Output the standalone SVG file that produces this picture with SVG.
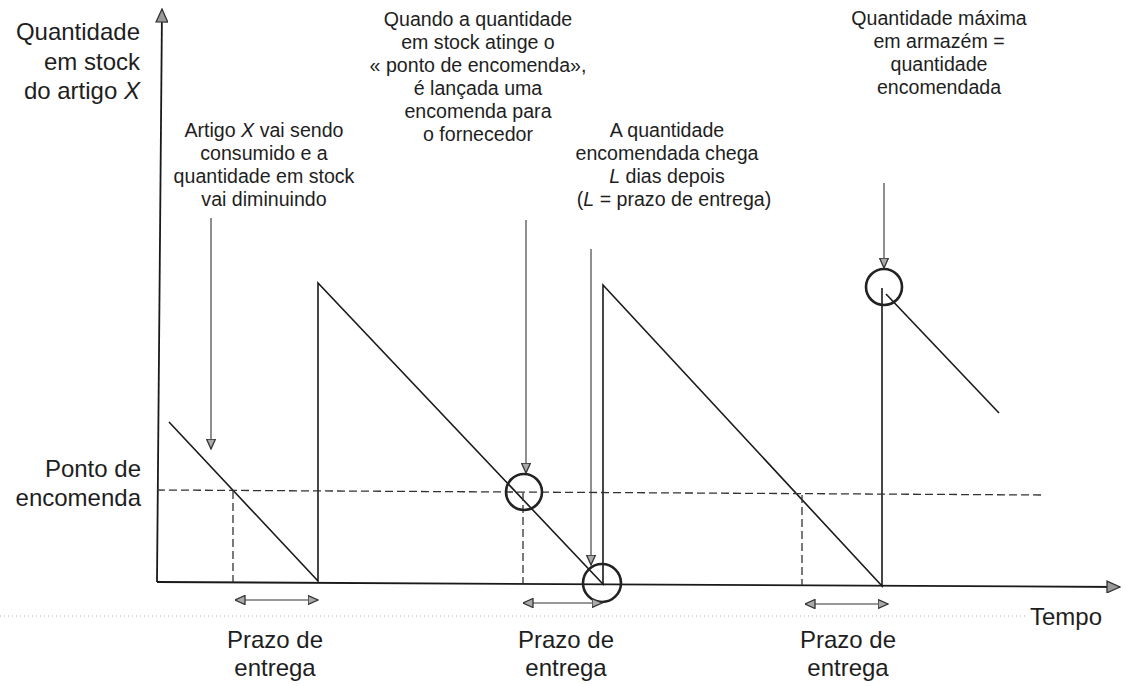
<svg xmlns="http://www.w3.org/2000/svg" width="1126" height="686" viewBox="0 0 1126 686">
<defs>
<style>
.ax{stroke:#1a1a1a;stroke-width:1.8;fill:none}
.ln{stroke:#1a1a1a;stroke-width:1.6;fill:none}
.dash{stroke:#333;stroke-width:1.3;stroke-dasharray:8 4;fill:none}
.ptr{stroke:#333;stroke-width:1.1;fill:none}
.circ{stroke:#222;stroke-width:2.6;fill:none}
.big{font-family:"Liberation Sans",Arial,sans-serif;font-size:24px;fill:#1e1e1e}
.sm{font-family:"Liberation Sans",Arial,sans-serif;font-size:19.6px;fill:#1e1e1e}
.dot{stroke:#aaa;stroke-width:1;stroke-dasharray:1 3;fill:none}
</style>
<marker id="ah" viewBox="0 0 10 10" refX="10" refY="5" markerWidth="11" markerHeight="10" markerUnits="userSpaceOnUse" orient="auto-start-reverse">
<path d="M0,0.5 L10,5 L0,9.5 Z" fill="#aaa" stroke="#333" stroke-width="1.3"/>
</marker>
<marker id="axh" viewBox="0 0 10 10" refX="10" refY="5" markerWidth="15" markerHeight="13" markerUnits="userSpaceOnUse" orient="auto">
<path d="M0,0.5 L10,5 L0,9.5 Z" fill="#999" stroke="#333" stroke-width="1"/>
</marker>
</defs>
<g id="axes">
<line class="ax" x1="157" y1="582" x2="162" y2="9" marker-end="url(#axh)"/>
<line class="ax" x1="157" y1="582" x2="1120" y2="587" marker-end="url(#axh)"/>
<line class="dot" x1="0" y1="616" x2="1028" y2="616"/>
<text class="big" x="140" y="40" text-anchor="end">Quantidade</text>
<text class="big" x="140" y="70" text-anchor="end">em stock</text>
<text class="big" x="140" y="99" text-anchor="end">do artigo <tspan font-style="italic">X</tspan></text>
<text class="big" x="141" y="477" text-anchor="end">Ponto de</text>
<text class="big" x="141" y="506" text-anchor="end">encomenda</text>
<text class="big" x="1030" y="625">Tempo</text>
</g>
<g id="curve">
<polyline class="ln" points="169,422 318,581 318,283 601,582 603,584 603,285 882,586 882,288"/>
<line class="ln" x1="886" y1="294" x2="999" y2="413"/>
</g>
<g id="reorder-level">
<polyline class="dash" points="157,490 1043,495"/>
<line class="dash" x1="233" y1="491" x2="233" y2="582"/>
<line class="dash" x1="523" y1="493" x2="523" y2="583"/>
<line class="dash" x1="802" y1="495" x2="802" y2="585"/>
</g>
<g id="circles">
<circle class="circ" cx="524" cy="492" r="18"/>
<circle class="circ" cx="602" cy="583" r="19"/>
<circle class="circ" cx="884" cy="287" r="18"/>
</g>
<g id="connectors">
<line class="ptr" x1="211" y1="218" x2="211" y2="449" marker-end="url(#ah)"/>
<line class="ptr" x1="526" y1="220" x2="526" y2="473" marker-end="url(#ah)"/>
<line class="ptr" x1="591" y1="249" x2="591" y2="565" marker-end="url(#ah)"/>
<line class="ptr" x1="884" y1="183" x2="884" y2="268" marker-end="url(#ah)"/>
<line class="ptr" x1="235" y1="600" x2="318" y2="600" marker-start="url(#ah)" marker-end="url(#ah)"/>
<line class="ptr" x1="523" y1="603" x2="602" y2="603" marker-start="url(#ah)" marker-end="url(#ah)"/>
<line class="ptr" x1="805" y1="604" x2="888" y2="604" marker-start="url(#ah)" marker-end="url(#ah)"/>
</g>
<g id="label-consumo">
<text class="sm" x="264" y="137" text-anchor="middle">Artigo <tspan font-style="italic">X</tspan> vai sendo</text>
<text class="sm" x="264" y="160" text-anchor="middle">consumido e a</text>
<text class="sm" x="264" y="183" text-anchor="middle">quantidade em stock</text>
<text class="sm" x="264" y="206" text-anchor="middle">vai diminuindo</text>
</g>
<g id="label-encomenda">
<text class="sm" x="478" y="26" text-anchor="middle">Quando a quantidade</text>
<text class="sm" x="478" y="49" text-anchor="middle">em stock atinge o</text>
<text class="sm" x="478" y="72" text-anchor="middle">« ponto de encomenda»,</text>
<text class="sm" x="478" y="95" text-anchor="middle">é lançada uma</text>
<text class="sm" x="478" y="118" text-anchor="middle">encomenda para</text>
<text class="sm" x="478" y="141" text-anchor="middle">o fornecedor</text>
</g>
<g id="label-chegada">
<text class="sm" x="667" y="137" text-anchor="middle">A quantidade</text>
<text class="sm" x="667" y="160" text-anchor="middle">encomendada chega</text>
<text class="sm" x="667" y="183" text-anchor="middle"><tspan font-style="italic">L</tspan> dias depois</text>
<text class="sm" x="674" y="206" text-anchor="middle">(<tspan font-style="italic">L</tspan> = prazo de entrega)</text>
</g>
<g id="label-maxima">
<text class="sm" x="939" y="25" text-anchor="middle">Quantidade máxima</text>
<text class="sm" x="939" y="48" text-anchor="middle">em armazém =</text>
<text class="sm" x="939" y="71" text-anchor="middle">quantidade</text>
<text class="sm" x="939" y="94" text-anchor="middle">encomendada</text>
</g>
<g id="label-prazo-1">
<text class="big" x="275" y="648" text-anchor="middle">Prazo de</text>
<text class="big" x="275" y="676" text-anchor="middle">entrega</text>
</g>
<g id="label-prazo-2">
<text class="big" x="566" y="648" text-anchor="middle">Prazo de</text>
<text class="big" x="566" y="676" text-anchor="middle">entrega</text>
</g>
<g id="label-prazo-3">
<text class="big" x="848" y="648" text-anchor="middle">Prazo de</text>
<text class="big" x="848" y="676" text-anchor="middle">entrega</text>
</g>
</svg>
